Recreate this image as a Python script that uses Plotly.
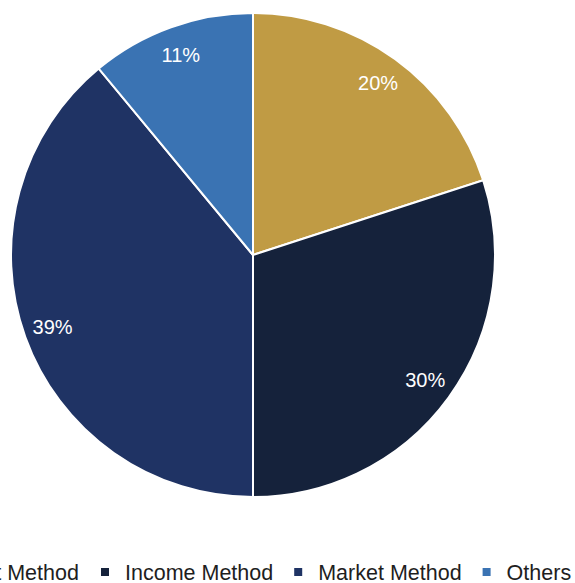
import plotly.graph_objects as go

# Valuation approach shares
labels = ["Cost Method", "Income Method", "Market Method", "Others"]
values = [20, 30, 39, 11]
colors = ["#C09B44", "#15223B", "#1F3364", "#3A73B3"]

W, H = 575, 583
FONT = "Liberation Sans, Arial, sans-serif"
dom_x = [11 / W, 495 / W]
dom_y = [(H - 497) / H, (H - 13) / H]

fig = go.Figure()

# Main pie with slice colours and white separators
fig.add_trace(go.Pie(
    labels=labels,
    values=values,
    sort=False,
    direction="clockwise",
    rotation=0,
    marker=dict(colors=colors, line=dict(color="white", width=2)),
    textinfo="none",
    hoverinfo="label+percent",
    domain=dict(x=dom_x, y=dom_y),
    showlegend=False,
))

# Transparent ring that carries the percentage labels near the rim
fig.add_trace(go.Pie(
    labels=labels,
    values=values,
    sort=False,
    direction="clockwise",
    rotation=0,
    hole=0.76,
    marker=dict(colors=["rgba(0,0,0,0)"] * 4, line=dict(width=0)),
    texttemplate="%{percent:.0%}",
    textposition="inside",
    insidetextorientation="horizontal",
    textfont=dict(color="white", size=20, family=FONT),
    hoverinfo="skip",
    domain=dict(x=dom_x, y=dom_y),
    showlegend=False,
))

# Legend entries: the first one sits in its own legend so the row can run
# past the left edge of the page
legend_ids = ["legend", "legend2", "legend2", "legend2"]
for name, col, lid in zip(labels, colors, legend_ids):
    fig.add_trace(go.Scatter(
        x=[None], y=[None],
        mode="markers",
        name=name,
        marker=dict(symbol="square", size=8, color=col),
        legend=lid,
        hoverinfo="skip",
    ))

legend_common = dict(
    orientation="h",
    y=11 / H,
    yanchor="middle",
    font=dict(size=21.5, color="#1E1E1E", family=FONT),
    itemclick=False,
    itemdoubleclick=False,
    bgcolor="rgba(0,0,0,0)",
    borderwidth=0,
)

fig.update_layout(
    width=W,
    height=H,
    margin=dict(l=0, r=0, t=0, b=0, autoexpand=False),
    paper_bgcolor="white",
    plot_bgcolor="white",
    font=dict(family=FONT, color="#1E1E1E"),
    xaxis=dict(visible=False),
    yaxis=dict(visible=False),
    legend=dict(x=-83 / W, xanchor="left", **legend_common),
    legend2=dict(x=85 / W, xanchor="left", **legend_common),
)

fig.write_html("out.html")
